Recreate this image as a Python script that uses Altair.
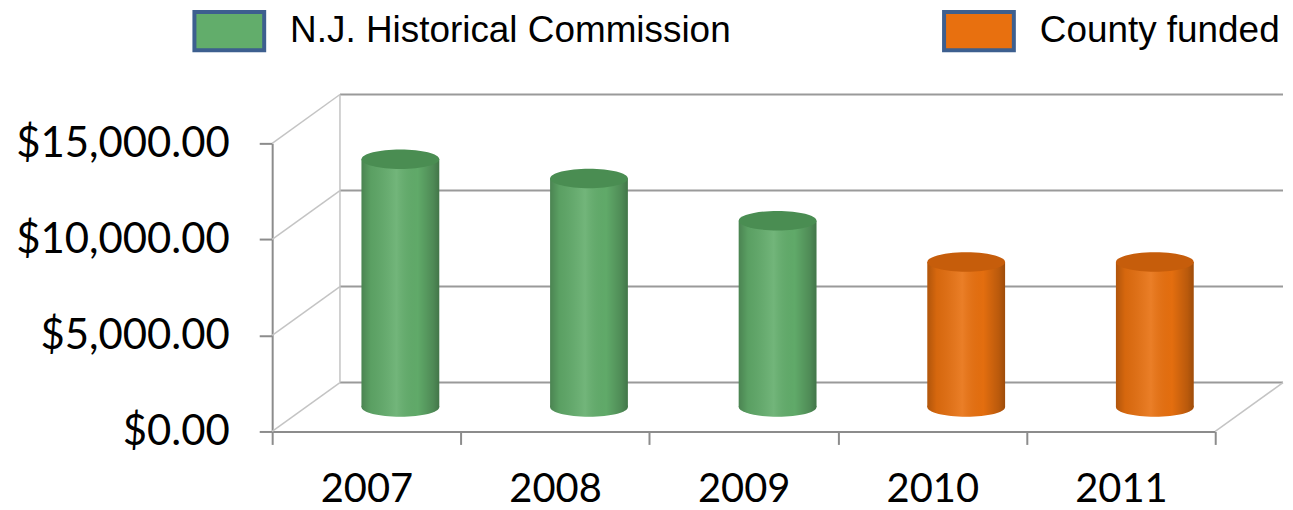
import altair as alt
import pandas as pd

# ---- data ----
years = ["2007", "2008", "2009", "2010", "2011"]
amounts = [12900, 11900, 9700, 7550, 7550]
sources = ["N.J. Historical Commission", "N.J. Historical Commission",
           "N.J. Historical Commission", "County funded", "County funded"]
series_names = ["N.J. Historical Commission", "County funded"]
series_colors = ["#62ad6b", "#e8700f"]
cap_color_list = ["#4a8d52", "#c65d0b"]
tick_values = [0, 5000, 10000, 15000]

# ---- layout / style ----
W, H = 946, 289
DX, DY = 68, -49           # depth of the 3-D box
HX, HY = DX / 2, DY / 2    # bars sit at mid depth
BAR_W = 78
ELL = "M-1,0A1,0.25,0,1,1,1,0A1,0.25,0,1,1,-1,0Z"
RECT = "M-1,-0.55H1V0.55H-1Z"
GRID = "#9a9a9a"
WALL = "#c4c4c4"
AXIS = "#8c8c8c"

cap_map = dict(zip(series_names, cap_color_list))
df = pd.DataFrame({
    "year": years,
    "amount": amounts,
    "source": sources,
    "base": [0] * len(years),
    "cap": [cap_map[s] for s in sources],
})
grid_df = pd.DataFrame({"v": tick_values})

yscale = alt.Scale(domain=[0, max(tick_values)], nice=False, zero=True)
xscale = alt.Scale(domain=years, paddingInner=0, paddingOuter=0)
cscale = alt.Scale(domain=series_names, range=series_colors)

y_axis = alt.Axis(
    title=None, values=tick_values, format="$,.2f", grid=False,
    labelFont="Lato", labelFontSize=42, labelColor="black",
    labelPadding=30, labelLimit=400, tickSize=13, tickColor=AXIS,
    tickWidth=2, domainColor=AXIS, domainWidth=2,
)
x_axis = alt.Axis(
    title=None, labelAngle=0, labelFont="Lato", labelFontSize=40,
    labelColor="black", labelPadding=25, labelLimit=300,
    tickBand="extent", tickSize=13, tickColor=AXIS, tickWidth=2,
    domainColor=AXIS, domainWidth=2, grid=False,
)

X = alt.X("year:N", scale=xscale, axis=x_axis)


def Y(field):
    return alt.Y(field, scale=yscale, axis=y_axis)


shade = alt.Gradient(
    gradient="linear", x1=0, x2=1, y1=0, y2=0,
    stops=[
        alt.GradientStop(offset=0, color="rgba(0,0,0,0.24)"),
        alt.GradientStop(offset=0.12, color="rgba(0,0,0,0.08)"),
        alt.GradientStop(offset=0.45, color="rgba(255,255,255,0.10)"),
        alt.GradientStop(offset=0.72, color="rgba(0,0,0,0.02)"),
        alt.GradientStop(offset=0.92, color="rgba(0,0,0,0.20)"),
        alt.GradientStop(offset=1, color="rgba(0,0,0,0.32)"),
    ],
)

# back wall gridlines
back_grid = alt.Chart(grid_df).mark_rule(
    color=GRID, strokeWidth=2, yOffset=DY
).encode(
    y=Y("v:Q"),
    x=alt.value(DX), x2=alt.value(W + DX),
)

# left wall diagonals
left_diag = alt.Chart(grid_df).mark_rule(
    color=WALL, strokeWidth=1.5, y2Offset=DY
).encode(
    y=Y("v:Q"),
    y2=alt.Y2("v"),
    x=alt.value(0), x2=alt.value(DX),
)

# back vertical edge
back_edge = alt.Chart(grid_df).transform_aggregate(
    lo="min(v)", hi="max(v)"
).mark_rule(
    color=WALL, strokeWidth=1.5, yOffset=DY, y2Offset=DY
).encode(
    y=Y("lo:Q"),
    y2=alt.Y2("hi"),
    x=alt.value(DX),
)

# right floor diagonal
floor_diag = alt.Chart(grid_df).transform_aggregate(
    lo="min(v)"
).mark_rule(
    color=WALL, strokeWidth=1.5, y2Offset=DY
).encode(
    y=Y("lo:Q"),
    y2=alt.Y2("lo"),
    x=alt.value(W), x2=alt.value(W + DX),
)

legend = alt.Legend(
    orient="none", legendX=-80, legendY=-150, direction="horizontal",
    title=None, symbolType=RECT, symbolSize=4900,
    symbolStrokeColor="#3d5f8f", symbolStrokeWidth=4, symbolOpacity=1,
    labelFont="Liberation Sans", labelFontSize=37, labelColor="black",
    labelLimit=900, columnPadding=205, labelOffset=24,
)

base = alt.Chart(df)

bottom_ell = base.mark_point(
    shape=ELL, size=BAR_W ** 2, filled=True, opacity=1, strokeWidth=0,
    xOffset=HX, yOffset=HY,
).encode(
    x=X,
    y=Y("base:Q"),
    color=alt.Color("source:N", scale=cscale, legend=legend),
)

bottom_shade = base.mark_point(
    shape=ELL, size=BAR_W ** 2, filled=True, opacity=1, strokeWidth=0,
    fill=shade, xOffset=HX, yOffset=HY,
).encode(
    x=X,
    y=Y("base:Q"),
)

body = base.mark_bar(
    width=BAR_W, xOffset=HX, x2Offset=HX, yOffset=HY, y2Offset=HY,
).encode(
    x=X,
    y=Y("amount:Q"),
    y2=alt.Y2("base"),
    color=alt.Color("source:N", scale=cscale, legend=legend),
)

body_shade = base.mark_bar(
    width=BAR_W, xOffset=HX, x2Offset=HX, yOffset=HY, y2Offset=HY,
    fill=shade,
).encode(
    x=X,
    y=Y("amount:Q"),
    y2=alt.Y2("base"),
)

top_cap = base.mark_point(
    shape=ELL, size=BAR_W ** 2, filled=True, opacity=1, strokeWidth=0,
    xOffset=HX, yOffset=HY,
).encode(
    x=X,
    y=Y("amount:Q"),
    fill=alt.Fill("cap:N", scale=None, legend=None),
)

chart = alt.layer(
    back_grid, left_diag, back_edge, floor_diag,
    bottom_ell, bottom_shade, body, body_shade, top_cap,
).properties(
    width=W, height=H,
    background="white",
    padding={"left": 265, "top": 135, "right": 70, "bottom": 77},
    autosize=alt.AutoSizeParams(type="none"),
).configure_view(strokeWidth=0, stroke="transparent")

chart.save("out.html", embed_options={"renderer": "svg", "actions": False})
